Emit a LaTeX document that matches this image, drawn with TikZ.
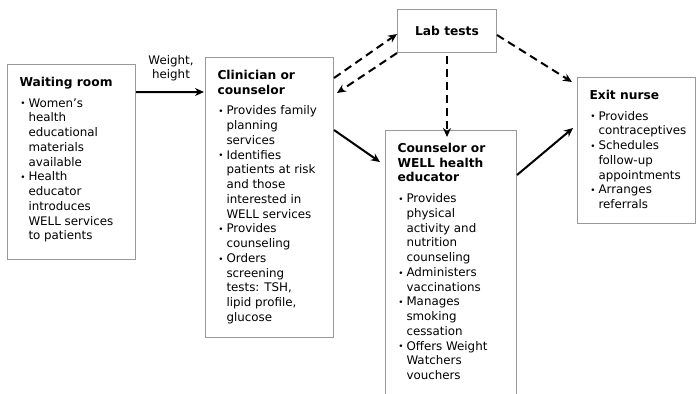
\documentclass[tikz,border=0pt]{standalone}
\usepackage{fontspec}
\setmainfont{DejaVu Sans}
\usetikzlibrary{arrows.meta}
\definecolor{boxgray}{rgb}{0.6,0.6,0.6}
\newcommand{\hd}[1]{\vspace*{11bp}\noindent{\fontsize{12.3}{14.8}\selectfont\bfseries\rule{0pt}{11bp}#1}\par\vspace{6bp}}
\newcommand{\bl}[1]{\par\hangindent=9bp\hangafter=1\noindent\makebox[9bp][l]{\hspace{0.8bp}\raisebox{0.3bp}{\scalebox{0.75}{•}}}#1\par}
\tikzset{
  box/.style={draw=boxgray, line width=1bp, inner sep=0pt, anchor=north west, align=left},
  solidarrow/.style={line width=2bp, -{Stealth[length=9bp,width=8bp]}},
  dasharrow/.style={line width=2bp, dash pattern=on 8bp off 5bp, -{Stealth[length=9bp,width=8bp]}},
  lbl/.style={font=\fontsize{11.9}{14}\selectfont, align=center}
}
\newcommand{\content}[3]{% width, height, body
  \begin{minipage}[t][#2][t]{#1}\fontsize{11.9}{14.8}\selectfont\parskip=0pt
  \rightskip=0pt plus 1fil\hyphenpenalty=10000\parindent=0pt
  \leftskip=12bp #3\end{minipage}}
\begin{document}
\begin{tikzpicture}[x=1bp,y=-1bp]
\useasboundingbox (0,0) rectangle (696,393);
\fill[white] (0,0) rectangle (696,393);

\node[box] (wait) at (7,64) {\content{128bp}{195bp}{%
\hd{Waiting room}
\bl{Women’s\\health\\educational\\materials\\available}
\bl{Health\\educator\\introduces\\WELL services\\to patients}}};

\node[box] (clin) at (205,57) {\content{128bp}{280bp}{%
\hd{Clinician or\\counselor}
\bl{Provides family\\planning\\services}
\bl{Identifies\\patients at risk\\and those\\interested in\\WELL services}
\bl{Provides\\counseling}
\bl{Orders\\screening\\tests: TSH,\\lipid profile,\\glucose}}};

\node[box, minimum width=99bp, minimum height=43bp, anchor=north west, font=\fontsize{12.3}{14}\selectfont\bfseries] (lab) at (397,9) {Lab tests};

\node[box] (coun) at (385,130) {\content{131bp}{290bp}{%
\hd{Counselor or\\WELL health\\educator}
\bl{Provides\\physical\\activity and\\nutrition\\counseling}
\bl{Administers\\vaccinations}
\bl{Manages\\smoking\\cessation}
\bl{Offers Weight\\Watchers\\vouchers}}};

\node[box] (exit) at (577,77) {\content{118bp}{146bp}{%
\hd{Exit nurse}
\bl{Provides\\contraceptives}
\bl{Schedules\\follow-up\\appointments}
\bl{Arranges\\referrals}}};

\node[lbl, anchor=south] (wh) at (171,84) {Weight,\\height};

\draw[solidarrow] ([yshift=-28bp]wait.north east) -- ([xshift=-1bp,yshift=-35bp]clin.north west);
\draw[dasharrow] ([yshift=-21bp]clin.north east) -- ([yshift=-3bp]lab.west);
\draw[dasharrow] (lab.south west) -- ([xshift=3bp,yshift=-36bp]clin.north east);
\draw[dasharrow] ([yshift=-3bp]lab.south) -- ([yshift=-7bp]lab.south |- coun.north);
\draw[dasharrow] ([yshift=-4bp]lab.east) -- ([xshift=-5bp,yshift=-5bp]exit.north west);
\draw[solidarrow] ([yshift=-73bp]clin.north east) -- ([xshift=-5bp,yshift=-32bp]coun.north west);
\draw[solidarrow] ([yshift=-45bp]coun.north east) -- ([xshift=-4bp,yshift=-51bp]exit.north west);
\end{tikzpicture}
\end{document}
